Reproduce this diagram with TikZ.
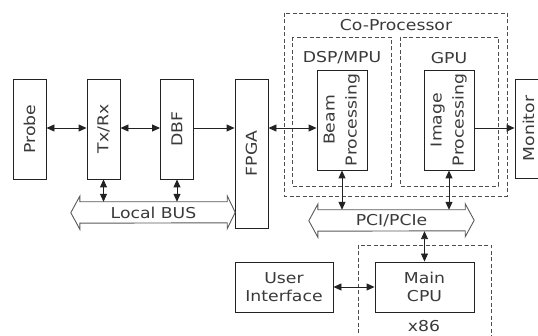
\documentclass[tikz,border=0pt]{standalone}
\usepackage{fontspec}
\setmainfont{DejaVu Sans}[FakeStretch=1.15]
\usetikzlibrary{arrows.meta,calc}
\definecolor{ink}{HTML}{222222}
\definecolor{txt}{HTML}{3A3A3A}
\begin{document}
\begin{tikzpicture}[x=1pt,y=-1pt,
  every node/.style={font=\fontsize{15}{18}\selectfont, text=txt, inner sep=0pt},
  blk/.style={draw=ink, line width=0.9pt, fill=white},
  grp/.style={draw=ink!80, line width=0.8pt, dash pattern=on 4pt off 2.5pt},
  bus/.style={draw=ink!75, line width=0.9pt},
  tipa/.tip={Triangle[length=8pt,width=7pt]},
  one/.style={draw=ink, line width=0.9pt, -tipa},
  two/.style={draw=ink, line width=0.9pt, tipa-tipa},
]
\useasboundingbox (0,0) rectangle (538,336);

% dashed processor groups
\draw[grp] (284,13) rectangle (507,196);
\draw[grp] (292,37) rectangle (391,186);
\draw[grp] (400,37) rectangle (498,186);
\draw[grp] (358,245) rectangle (491,346);
\node (lcop) at (396,25) {Co-Processor};
\node (ldsp) at (342,58) {DSP/MPU};
\node (lgpu) at (449,58) {GPU};
\node (lx86) at (424,326) {x86};

% front-end chain
\node[blk, minimum width=33, minimum height=100] (probe) at (29.5,129) {\rotatebox{90}{Probe}};
\node[blk, minimum width=33, minimum height=100] (txrx) at (103.5,129) {\rotatebox{90}{Tx/Rx}};
\node[blk, minimum width=33, minimum height=100] (dbf) at (177,129) {\rotatebox{90}{DBF}};
\node[blk, minimum width=33, minimum height=149] (fpga) at (251.5,153.5) {\rotatebox{90}{FPGA}};

% processing blocks
\node[blk, minimum width=50, minimum height=100] (beam) at (342,120)
  {\rotatebox{90}{\begin{tabular}{@{}c@{}}Beam\\[4pt]Processing\end{tabular}}};
\node[blk, minimum width=50, minimum height=100] (image) at (449,120)
  {\rotatebox{90}{\begin{tabular}{@{}c@{}}Image\\[4pt]Processing\end{tabular}}};
\node[blk, minimum width=33, minimum height=99] (monitor) at (531.5,128.5) {};
\node (lmon) at (528.5,128.5) {\rotatebox{90}{Monitor}};

% host side
\node[blk, minimum width=98, minimum height=50, align=center] (ui) at (284,287) {User\\Interface};
\node[blk, minimum width=99, minimum height=50, align=center] (cpu) at (424.5,287) {Main\\CPU};

% buses (shaft nodes with double-headed outlines)
\node[minimum width=147, minimum height=21] (lbus) at (153.5,212.5) {Local BUS};
\draw[bus] (lbus.north west) -- (lbus.north east) -- ++(0,-6) -- ++(8,16.5) -- ++(-8,16.5)
  -- ++(0,-6) -- (lbus.south west) -- ++(0,6) -- ++(-9,-16.5) -- ++(9,-16.5) -- cycle;
\node[minimum width=147, minimum height=21] (pci) at (391.5,220.5) {PCI/PCIe};
\draw[bus] (pci.north west) -- (pci.north east) -- ++(0,-6) -- ++(9,16.5) -- ++(-9,16.5)
  -- ++(0,-6) -- (pci.south west) -- ++(0,6) -- ++(-9,-16.5) -- ++(9,-16.5) -- cycle;

% connectors
\coordinate (row) at (0,128);
\draw[two] (probe.east |- row) -- (txrx.west |- row);
\draw[two] (txrx.east |- row) -- (dbf.west |- row);
\draw[one] (dbf.east |- row) -- (fpga.west |- row);
\draw[two] (fpga.east |- row) -- (beam.west |- row);
\draw[one] (image.east |- row) -- (monitor.west |- row);
\draw[two] (txrx.south) -- (txrx.south |- lbus.north);
\draw[two] (dbf.south) -- (dbf.south |- lbus.north);
\draw[two] (beam.south) -- (beam.south |- pci.north);
\draw[two] (image.south) -- (image.south |- pci.north);
\draw[two] (pci.south -| cpu.north) -- (cpu.north);
\draw[two] (ui.east) -- (cpu.west);
\end{tikzpicture}
\end{document}
